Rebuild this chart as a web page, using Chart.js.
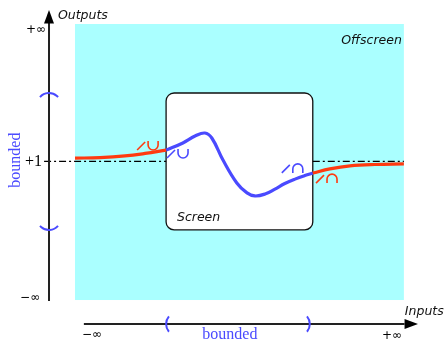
<!DOCTYPE html>
<html>
<head>
<meta charset="utf-8">
<script src="https://cdn.jsdelivr.net/npm/chart.js@4"></script>
<style>
  body { margin: 0; background: #fff; }
  #wrap { width: 445px; height: 345px; position: relative; }
</style>
</head>
<body>
<div id="wrap"><canvas id="diagram"></canvas></div>
<script>
// inputs / outputs in diagram units (offscreen region spans 0..100 on both)
const leftInputs = [0, 7.6, 15.2, 21.3, 27.7];
const leftOutputs = [51.4, 51.6, 52.2, 53.1, 54.3];
const screenCurveInputs = [27.7, 32.8, 36.5, 39.5, 41.6, 45.0, 49.2, 52.3, 54.7, 57.8, 60.8, 63.8, 66.9, 69.9, 72.3];
const screenCurveOutputs = [54.3, 56.9, 59.4, 60.5, 58.7, 50.7, 42.4, 38.8, 37.7, 38.4, 40.2, 42.2, 43.8, 45.1, 46.0];
const rightInputs = [72.3, 77.5, 83.6, 91.2, 100];
const rightOutputs = [46.0, 47.5, 48.6, 49.1, 49.3];

const asymptote = 50.2;           // the +1 level
const screenInputs = [27.7, 72.3];
const screenOutputs = [25.4, 75.0];

// slope / concavity marks: [input, output, colour, shape]
const marks = [
  [20.1, 55.8, '#ff3a10', 'cup'],
  [29.2, 52.9, '#4a4aff', 'cup'],
  [64.1, 47.5, '#4a4aff', 'cap'],
  [74.5, 43.8, '#ff3a10', 'cap']
];

const RED = '#ff3a10';
const BLUE = '#4a4aff';

function pts(xs, ys) {
  return xs.map((v, i) => ({x: v, y: ys[i]}));
}

const diagramPlugin = {
  id: 'diagram',
  beforeDatasetsDraw(chart) {
    const {ctx, scales: {x, y}} = chart;
    const px = v => x.getPixelForValue(v);
    const py = v => y.getPixelForValue(v);
    ctx.save();
    // offscreen area
    ctx.fillStyle = '#aaffff';
    ctx.fillRect(px(0), py(100), px(100) - px(0), py(0) - py(100));
    // screen
    const sx = px(screenInputs[0]), sy = py(screenOutputs[1]);
    const sw = px(screenInputs[1]) - sx, sh = py(screenOutputs[0]) - sy;
    ctx.beginPath();
    ctx.roundRect(sx, sy, sw, sh, 8);
    ctx.fillStyle = '#fff';
    ctx.fill();
    ctx.lineWidth = 1.3;
    ctx.strokeStyle = '#111';
    ctx.stroke();
    ctx.restore();
  },
  afterDatasetsDraw(chart) {
    const {ctx, scales: {x, y}} = chart;
    const px = v => x.getPixelForValue(v);
    const py = v => y.getPixelForValue(v);
    ctx.save();

    // vertical axis
    const ax = px(-7.9);
    ctx.strokeStyle = '#222';
    ctx.fillStyle = '#000';
    ctx.lineWidth = 2;
    ctx.beginPath();
    ctx.moveTo(ax, py(-0.4));
    ctx.lineTo(ax, py(100.4));
    ctx.stroke();
    ctx.beginPath();
    ctx.moveTo(ax, py(105.1));
    ctx.lineTo(ax - 5, py(100.2));
    ctx.lineTo(ax + 5, py(100.2));
    ctx.closePath();
    ctx.fill();

    // horizontal axis
    const ay = py(-8.7);
    ctx.beginPath();
    ctx.moveTo(px(2.7), ay);
    ctx.lineTo(px(100.2), ay);
    ctx.stroke();
    ctx.beginPath();
    ctx.moveTo(px(104.3), ay);
    ctx.lineTo(px(100.2), ay - 5);
    ctx.lineTo(px(100.2), ay + 5);
    ctx.closePath();
    ctx.fill();

    // bounded brackets
    ctx.strokeStyle = BLUE;
    ctx.lineWidth = 2;
    const R = 12;
    ctx.beginPath();
    ctx.arc(ax, py(screenOutputs[1]) + R, R, -Math.PI / 2 - 0.85, -Math.PI / 2 + 0.85);
    ctx.stroke();
    ctx.beginPath();
    ctx.arc(ax, py(screenOutputs[0]) - R, R, Math.PI / 2 - 0.85, Math.PI / 2 + 0.85);
    ctx.stroke();
    ctx.beginPath();
    ctx.arc(px(screenInputs[0]) + R, ay, R, Math.PI - 0.7, Math.PI + 0.7);
    ctx.stroke();
    ctx.beginPath();
    ctx.arc(px(71.4) - R, ay, R, -0.7, 0.7);
    ctx.stroke();

    // slope and concavity marks
    ctx.lineWidth = 1.6;
    marks.forEach(([mx, my, col, shape]) => {
      const cx = px(mx), cy = py(my);
      ctx.strokeStyle = col;
      ctx.beginPath();
      ctx.moveTo(cx - 4, cy + 4);
      ctx.lineTo(cx + 4, cy - 4);
      ctx.stroke();
      const ux = cx + 12;
      ctx.beginPath();
      if (shape === 'cup') {
        ctx.moveTo(ux - 5, cy - 5);
        ctx.lineTo(ux - 5, cy - 1);
        ctx.arc(ux, cy - 1, 5, Math.PI, 0, true);
        ctx.lineTo(ux + 5, cy - 5);
      } else {
        ctx.moveTo(ux - 5, cy + 4);
        ctx.lineTo(ux - 5, cy);
        ctx.arc(ux, cy, 5, Math.PI, 0, false);
        ctx.lineTo(ux + 5, cy + 4);
      }
      ctx.stroke();
    });

    // labels
    const sans = 'oblique 12.5px "DejaVu Sans"';
    const small = '12px "DejaVu Sans"';
    const serif = '16px "Liberation Serif"';
    function label(text, ux, uy, font, color, align, base) {
      ctx.font = font;
      ctx.fillStyle = color;
      ctx.textAlign = align;
      ctx.textBaseline = base;
      ctx.fillText(text, px(ux), py(uy));
    }
    label('Outputs', -5.2, 101.8, sans, '#111', 'left', 'alphabetic');
    label('Inputs', 100.3, -5.4, sans, '#111', 'left', 'alphabetic');
    label('Screen', 31.0, 28.6, sans, '#111', 'left', 'alphabetic');
    label('Offscreen', 99.4, 92.8, sans, '#111', 'right', 'alphabetic');
    label('+\u221e', -8.8, 97.8, small, '#000', 'right', 'middle');
    label('\u2212\u221e', -10.6, 0.7, small, '#000', 'right', 'middle');
    label('\u2212\u221e', 5.2, -12.7, small, '#000', 'center', 'middle');
    label('+\u221e', 96.4, -13.0, small, '#000', 'center', 'middle');
    label('+1', -10.0, asymptote, serif, '#000', 'right', 'middle');
    label('bounded', 47.1, -12.7, serif, BLUE, 'center', 'middle');

    ctx.translate(px(-17.9), py(50.7));
    ctx.rotate(-Math.PI / 2);
    ctx.font = serif;
    ctx.fillStyle = BLUE;
    ctx.textAlign = 'center';
    ctx.textBaseline = 'middle';
    ctx.fillText('bounded', 0, 0);
    ctx.restore();
  }
};

const curveStyle = {
  showLine: true,
  pointRadius: 0,
  borderWidth: 3.2,
  tension: 0.4,
  fill: false
};

new Chart(document.getElementById('diagram'), {
  type: 'scatter',
  data: {
    datasets: [
      {
        data: [{x: -9.4, y: asymptote}, {x: screenInputs[0], y: asymptote}, {x: 50, y: null},
               {x: screenInputs[1], y: asymptote}, {x: 100, y: asymptote}],
        showLine: true,
        spanGaps: false,
        pointRadius: 0,
        borderWidth: 1.2,
        borderColor: '#000',
        borderDash: [7, 3, 2, 3]
      },
      Object.assign({data: pts(leftInputs, leftOutputs), borderColor: RED}, curveStyle),
      Object.assign({data: pts(rightInputs, rightOutputs), borderColor: RED}, curveStyle),
      Object.assign({data: pts(screenCurveInputs, screenCurveOutputs), borderColor: BLUE}, curveStyle)
    ]
  },
  options: {
    responsive: true,
    maintainAspectRatio: false,
    animation: false,
    layout: {padding: 0},
    plugins: {legend: {display: false}, tooltip: {enabled: false}},
    scales: {
      x: {type: 'linear', display: false, min: -22.8, max: 112.5},
      y: {type: 'linear', display: false, min: -16.3, max: 108.7}
    }
  },
  plugins: [diagramPlugin]
});
</script>
</body>
</html>
